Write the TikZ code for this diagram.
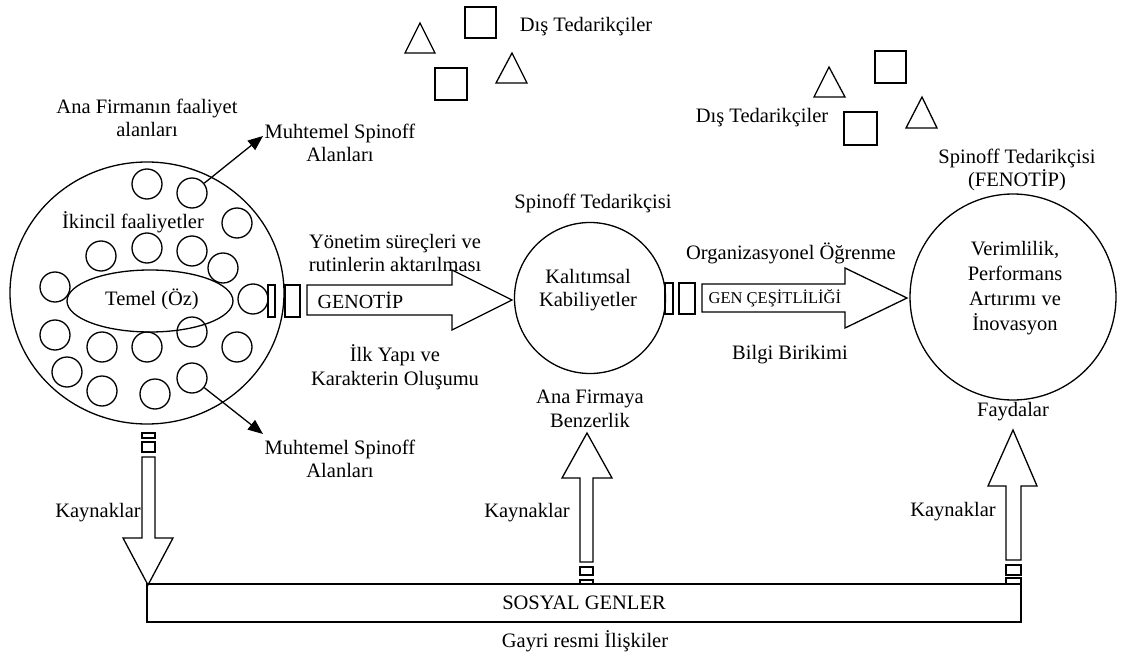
\documentclass[tikz,border=0pt]{standalone}
\usepackage{fontspec}
\setmainfont{Liberation Serif}
\usetikzlibrary{arrows.meta,shapes.geometric}
\begin{document}
\begin{tikzpicture}[x=1pt,y=-1pt,line width=1.3pt,
  txt/.style={font=\fontsize{20.5}{23.5}\selectfont, inner sep=0pt, align=center},
  sc/.style={draw, circle, minimum size=30pt, inner sep=0pt},
  blk/.style={draw, line join=miter},
  thintip/.style={-{Triangle[length=15pt,width=12pt]}}]
\useasboundingbox (0,0) rectangle (1127,658);

% left big circle
\node[draw, ellipse, minimum width=274pt, minimum height=262pt, inner sep=0pt] (big) at (147,293) {};
\node[draw, ellipse, minimum width=166pt, minimum height=62pt, inner sep=0pt] (core) at (150,301) {};
\node[txt] (coret) at (152,299) {Temel (Öz)};
\node[txt] (ikin) at (133,222) {İkincil faaliyetler};
\node[txt] (ana) at (147,118) {Ana Firmanın faaliyet\\alanları};

\node[sc] (c1) at (147,184) {};
\node[sc] (c2) at (192,193) {};
\node[sc] (c3) at (237,223) {};
\node[sc] (c4) at (101,256) {};
\node[sc] (c5) at (147,248) {};
\node[sc] (c6) at (192,251) {};
\node[sc] (c7) at (223,268) {};
\node[sc] (c8) at (55,287) {};
\node[sc] (c9) at (253,299) {};
\node[sc] (c10) at (55,335) {};
\node[sc] (c11) at (102,347) {};
\node[sc] (c12) at (147,347) {};
\node[sc] (c13) at (192,332) {};
\node[sc] (c14) at (237,347) {};
\node[sc] (c15) at (67,372) {};
\node[sc] (c16) at (102,391) {};
\node[sc] (c17) at (155,394) {};
\node[sc] (c18) at (192,378) {};

% spinoff arrows
\coordinate (mt1) at (263,136);
\coordinate (mt2) at (263,434);
\draw[thintip] (c2) -- (mt1);
\draw[thintip] (c18) -- (mt2);
\node[txt] (mus1) at (340,143) {Muhtemel Spinoff\\Alanları};
\node[txt] (mus2) at (340,459) {Muhtemel Spinoff\\Alanları};

% GENOTIP arrow
\draw (268,285) rectangle (275,317);
\draw (285,285) rectangle (300,317);
\draw[blk] (307,285) -- (452,285) -- (452,270) -- (512,300) -- (452,330) -- (452,315) -- (307,315) -- cycle;
\node[txt, font=\fontsize{20}{22}\selectfont, anchor=west] (geno) at (317,300) {GENOTİP};
\node[txt] (yon) at (395,253) {Yönetim süreçleri ve\\rutinlerin aktarılması};
\node[txt] (ilk) at (395,367) {İlk Yapı ve\\Karakterin Oluşumu};

% middle circle
\node[draw, circle, minimum size=151pt, inner sep=0pt] (kal) at (590,298) {};
\node[txt] (kalt) at (588,290) {Kalıtımsal\\Kabiliyetler};
\node[txt] (spt1) at (593,203) {Spinoff Tedarikçisi};
\node[txt] (benz) at (590,409) {Ana Firmaya\\Benzerlik};

% GEN CESITLILIGI arrow
\draw (665,283) rectangle (673,314);
\draw (679,283) rectangle (695,314);
\draw[blk] (702,284) -- (845,284) -- (845,268) -- (907,298) -- (845,328) -- (845,312) -- (702,312) -- cycle;
\node[txt, font=\fontsize{16.5}{19}\selectfont, anchor=west] (genc) at (708,298) {GEN ÇEŞİTLİLİĞİ};
\node[txt] (org) at (791,253) {Organizasyonel Öğrenme};
\node[txt] (bil) at (790,355) {Bilgi Birikimi};

% right circle
\node[draw, circle, minimum size=206pt, inner sep=0pt] (fen) at (1013,297) {};
\node[txt, font=\fontsize{20.5}{25}\selectfont] (verim) at (1015,288) {Verimlilik,\\Performans\\Artırımı ve\\İnovasyon};
\node[txt] (spt2) at (1017,170) {Spinoff Tedarikçisi\\(FENOTİP)};
\node[txt] (fay) at (1013,412) {Faydalar};

% social genes box
\node[draw, minimum width=874pt, minimum height=38pt, inner sep=0pt, txt] (sos) at (584,603) {SOSYAL GENLER};
\node[txt] (gay) at (585,641) {Gayri resmi İlişkiler};

% left down arrow
\draw (142,433) rectangle (155,438);
\draw (142,442) rectangle (155,452);
\draw[blk] (142,457) -- (155,457) -- (155,538) -- (173,538) -- (148,585) -- (123,538) -- (142,538) -- cycle;
\node[txt] (kay1) at (98,513) {Kaynaklar};

% middle up arrow
\draw (580,567) rectangle (593,575);
\draw (580,580) rectangle (593,584);
\draw[blk] (580,562) -- (580,478) -- (562,478) -- (587,433) -- (612,478) -- (593,478) -- (593,562) -- cycle;
\node[txt] (kay2) at (527,513) {Kaynaklar};

% right up arrow
\draw (1006,565) rectangle (1021,575);
\draw (1006,578) rectangle (1021,584);
\draw[blk] (1006,560) -- (1006,486) -- (988,486) -- (1013,430) -- (1037,486) -- (1021,486) -- (1021,560) -- cycle;
\node[txt] (kay3) at (953,512) {Kaynaklar};

% external suppliers
\draw[line join=miter] (405,53) -- (420,23) -- (435,53) -- cycle;
\draw (465,7) rectangle (496,38);
\draw (435,68) rectangle (467,100);
\draw[line join=miter] (496,83) -- (512,53) -- (527,83) -- cycle;
\node[txt] (dis1) at (586,27) {Dış Tedarikçiler};

\draw[line join=miter] (814,97) -- (829,67) -- (845,97) -- cycle;
\draw (875,51) rectangle (906,83);
\draw (844,112) rectangle (877,145);
\draw[line join=miter] (906,128) -- (922,97) -- (937,128) -- cycle;
\node[txt] (dis2) at (762,118) {Dış Tedarikçiler};
\end{tikzpicture}
\end{document}
